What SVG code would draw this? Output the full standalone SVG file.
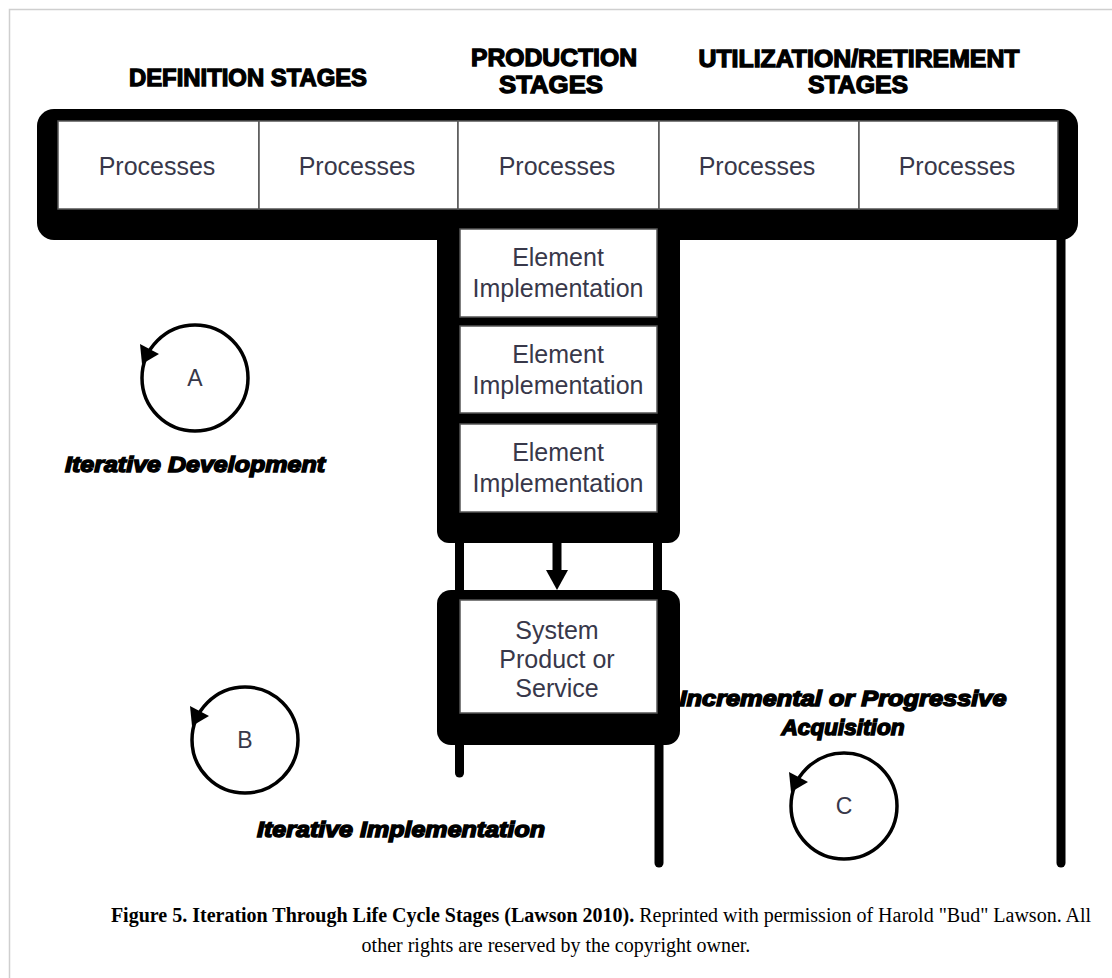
<svg xmlns="http://www.w3.org/2000/svg" width="1112" height="978" viewBox="0 0 1112 978">
<style>
.frame{fill:#000}
.box{fill:#fff;stroke:#555;stroke-width:1.5}
.lbl{font-family:"Liberation Sans",Arial,sans-serif;font-size:25px;fill:#38384a;text-anchor:middle}
.head{font-family:"Liberation Sans",Arial,sans-serif;font-size:24px;font-weight:bold;fill:#000;stroke:#000;stroke-width:1.3;text-anchor:middle}
.ital{font-family:"Liberation Sans",Arial,sans-serif;font-size:22px;font-weight:bold;font-style:italic;fill:#000;stroke:#000;stroke-width:1.5;text-anchor:middle}
.cyc{fill:none;stroke:#000;stroke-width:3.5}
.letter{font-family:"Liberation Sans",Arial,sans-serif;font-size:23px;fill:#38384a;text-anchor:middle}
.ln{stroke:#000;stroke-width:9;fill:none}
.cap{font-family:"Liberation Serif","Times New Roman",serif;font-size:20px;fill:#000;text-anchor:middle}
</style>
<defs>
<marker id="ah" markerUnits="userSpaceOnUse" viewBox="0 0 20 22" refX="5" refY="11" markerWidth="20" markerHeight="22" orient="auto">
<path d="M0,0 L20,11 L0,22 z" fill="#000"/>
</marker>
<path id="cycHead" d="M-55,-34 L-36,-24 L-53,-14 z" fill="#000"/>
</defs>
<rect width="1112" height="978" fill="#fff"/>
<path d="M9.5,978 V9.5 H1112" fill="none" stroke="#cfcfcf" stroke-width="1.5"/>

<g id="headings">
<text class="head" x="248" y="86" textLength="238" lengthAdjust="spacingAndGlyphs">DEFINITION STAGES</text>
<text class="head" x="554" y="66" textLength="166" lengthAdjust="spacingAndGlyphs">PRODUCTION</text>
<text class="head" x="551" y="93" textLength="104" lengthAdjust="spacingAndGlyphs">STAGES</text>
<text class="head" x="859" y="67" textLength="321" lengthAdjust="spacingAndGlyphs">UTILIZATION/RETIREMENT</text>
<text class="head" x="858" y="93" textLength="100" lengthAdjust="spacingAndGlyphs">STAGES</text>
</g>

<g id="lifecycle-frame">
<rect class="frame" x="37" y="109" width="1041" height="131" rx="17"/>
<rect class="frame" x="437" y="225" width="243" height="318" rx="12"/>
<rect class="frame" x="437" y="590" width="243" height="155" rx="14"/>
</g>

<g id="connectors">
<line class="ln" x1="459.5" y1="540" x2="459.5" y2="592"/>
<line class="ln" x1="657.5" y1="540" x2="657.5" y2="592"/>
<line class="ln" x1="557" y1="540" x2="557" y2="575" marker-end="url(#ah)"/>
<path class="ln" d="M459.5,740 V773" stroke-linecap="round"/>
<path class="ln" d="M659,740 V863" stroke-linecap="round"/>
<path class="ln" d="M1061,232 V863" stroke-linecap="round"/>
</g>

<g id="proc1"><rect class="box" x="58" y="121" width="201" height="88"/><text class="lbl" x="157" y="175">Processes</text></g>
<g id="proc2"><rect class="box" x="259" y="121" width="199" height="88"/><text class="lbl" x="357" y="175">Processes</text></g>
<g id="proc3"><rect class="box" x="458" y="121" width="201" height="88"/><text class="lbl" x="557" y="175">Processes</text></g>
<g id="proc4"><rect class="box" x="659" y="121" width="200" height="88"/><text class="lbl" x="757" y="175">Processes</text></g>
<g id="proc5"><rect class="box" x="859" y="121" width="199" height="88"/><text class="lbl" x="957" y="175">Processes</text></g>

<g id="elem1"><rect class="box" x="460" y="229" width="197" height="88"/><text class="lbl" x="558" y="266">Element</text><text class="lbl" x="558" y="297">Implementation</text></g>
<g id="elem2"><rect class="box" x="460" y="326" width="197" height="87"/><text class="lbl" x="558" y="363">Element</text><text class="lbl" x="558" y="394">Implementation</text></g>
<g id="elem3"><rect class="box" x="460" y="424" width="197" height="88"/><text class="lbl" x="558" y="461">Element</text><text class="lbl" x="558" y="492">Implementation</text></g>

<g id="system"><rect class="box" x="460" y="600" width="197" height="113"/><text class="lbl" x="557" y="639">System</text><text class="lbl" x="557" y="668">Product or</text><text class="lbl" x="557" y="697">Service</text></g>

<g id="cycleA">
<circle class="cyc" cx="195" cy="378" r="53"/>
<use href="#cycHead" transform="translate(195,378)"/>
<text class="letter" x="195" y="386">A</text>
<text class="ital" x="195" y="472" textLength="260" lengthAdjust="spacingAndGlyphs">Iterative Development</text>
</g>
<g id="cycleB">
<circle class="cyc" cx="245" cy="740" r="53"/>
<use href="#cycHead" transform="translate(245,740)"/>
<text class="letter" x="245" y="748">B</text>
<text class="ital" x="401" y="837" textLength="288" lengthAdjust="spacingAndGlyphs">Iterative Implementation</text>
</g>
<g id="cycleC">
<circle class="cyc" cx="844" cy="806" r="53"/>
<use href="#cycHead" transform="translate(844,806)"/>
<text class="letter" x="844" y="814">C</text>
<text class="ital" x="843" y="706" textLength="327" lengthAdjust="spacingAndGlyphs">Incremental or Progressive</text>
<text class="ital" x="843" y="735" textLength="123" lengthAdjust="spacingAndGlyphs">Acquisition</text>
</g>

<g id="caption">
<text class="cap" x="601" y="922"><tspan font-weight="bold">Figure 5. Iteration Through Life Cycle Stages (Lawson 2010).</tspan> Reprinted with permission of Harold "Bud" Lawson. All</text>
<text class="cap" x="556" y="952">other rights are reserved by the copyright owner.</text>
</g>
</svg>
